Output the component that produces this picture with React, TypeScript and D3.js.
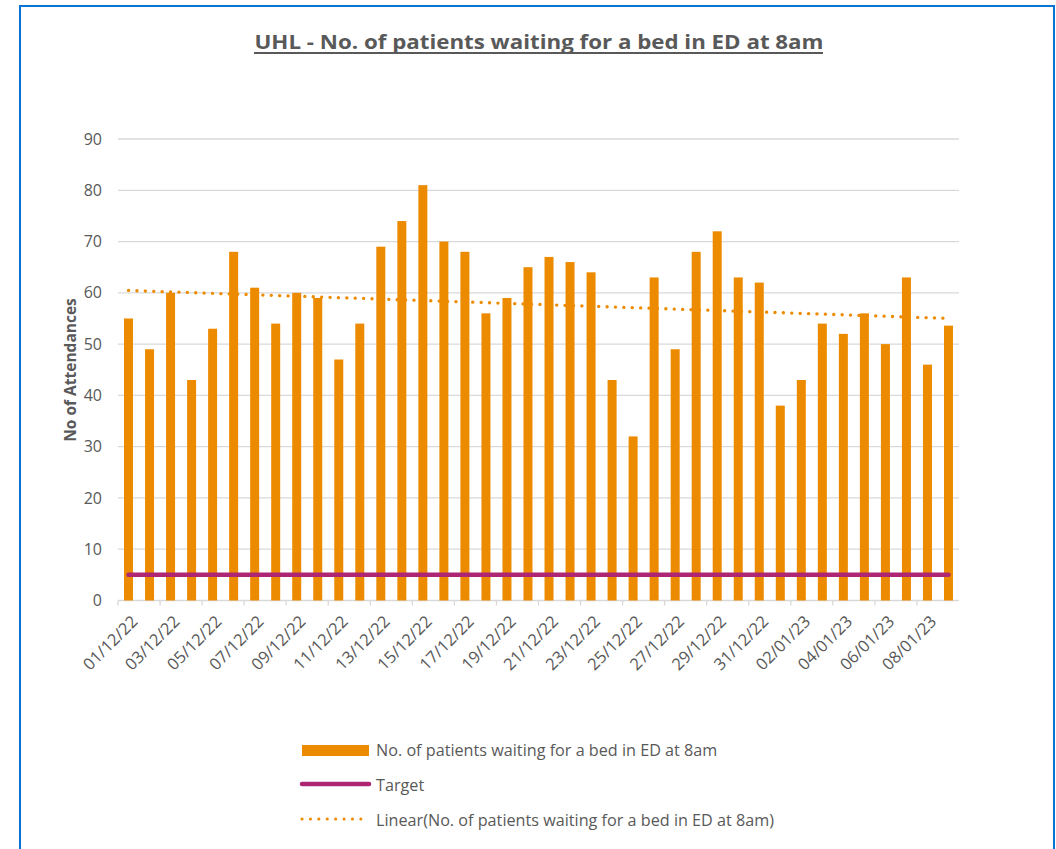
import React from "react";
import * as d3 from "d3";

const dates: string[] = [
  "01/12/22","02/12/22","03/12/22","04/12/22","05/12/22","06/12/22","07/12/22","08/12/22","09/12/22","10/12/22",
  "11/12/22","12/12/22","13/12/22","14/12/22","15/12/22","16/12/22","17/12/22","18/12/22","19/12/22","20/12/22",
  "21/12/22","22/12/22","23/12/22","24/12/22","25/12/22","26/12/22","27/12/22","28/12/22","29/12/22","30/12/22",
  "31/12/22","01/01/23","02/01/23","03/01/23","04/01/23","05/01/23","06/01/23","07/01/23","08/01/23","09/01/23",
];
const waiting: number[] = [
  55, 49, 60, 43, 53, 68, 61, 54, 60, 59,
  47, 54, 69, 74, 81, 70, 68, 56, 59, 65,
  67, 66, 64, 43, 32, 63, 49, 68, 72, 63,
  62, 38, 43, 54, 52, 56, 50, 63, 46, 53.6,
];
const targetValue = 5;
const yTicks: number[] = [0, 10, 20, 30, 40, 50, 60, 70, 80, 90];

const TITLE = "UHL - No. of patients waiting for a bed in ED at 8am";
const SERIES = "No. of patients waiting for a bed in ED at 8am";
const TREND = "Linear(No. of patients waiting for a bed in ED at 8am)";

const BAR = "#ED8B00";
const TARGET = "#AE2573";
const TEXT = "#595959";
const GRID = "#D9D9D9";
const FONT = "'Open Sans', 'Noto Sans', sans-serif";

export default function App() {
  const W = 1056, H = 849;
  const left = 118, right = 959, top = 139, bottom = 600.5;

  const x = d3.scaleBand<string>().domain(dates).range([left, right]).paddingInner(0).paddingOuter(0);
  const y = d3.scaleLinear().domain([0, 90]).range([bottom, top]);
  const bw = 9;
  const cx = (d: string) => (x(d) as number) + x.bandwidth() / 2;

  // linear regression trend
  const n = waiting.length;
  const idx = d3.range(n);
  const mx = d3.mean(idx) as number;
  const my = d3.mean(waiting) as number;
  let sxy = 0, sxx = 0;
  idx.forEach((i) => { sxy += (i - mx) * (waiting[i] - my); sxx += (i - mx) * (i - mx); });
  const slope = sxy / sxx;
  const intercept = my - slope * mx;
  const trendLine = d3.line<number>().x((i) => cx(dates[i])).y((i) => y(intercept + slope * i));

  const tickIdx = idx.filter((i) => i % 2 === 0);

  return (
    <svg width={W} height={H} style={{ position: "absolute", left: 0, top: 0, background: "#fff" }} fontFamily={FONT}>
      <rect x={0} y={0} width={W} height={H} fill="#fff" />
      {/* frame */}
      <path d={`M20,${H} L20,6 L1054,6 L1054,${H}`} fill="none" stroke="#0A74D4" strokeWidth={2} />

      {/* title */}
      <text x={539} y={49} textAnchor="middle" fontSize={20} fontWeight={700} fill={TEXT}
        textLength={569} lengthAdjust="spacingAndGlyphs">{TITLE}</text>
      <line x1={254} x2={823} y1={53} y2={53} stroke={TEXT} strokeWidth={2} />

      {/* grid */}
      {yTicks.map((t) => (
        <line key={"g" + t} x1={left} x2={right} y1={y(t)} y2={y(t)} stroke={GRID} strokeWidth={1.3} />
      ))}
      {yTicks.map((t) => (
        <text key={"yt" + t} x={102} y={y(t)} dy="0.35em" textAnchor="end" fontSize={16} fill={TEXT}>{t}</text>
      ))}
      <text transform={`translate(76,370) rotate(-90)`} textAnchor="middle" fontSize={15.5} fontWeight={700} fill={TEXT}>No of Attendances</text>

      {/* x ticks */}
      {tickIdx.map((i) => (
        <line key={"xt" + i} x1={x(dates[i])} x2={x(dates[i])} y1={bottom} y2={bottom + 5} stroke={GRID} strokeWidth={1.3} />
      ))}
      {tickIdx.map((i) => (
        <text key={"xl" + i} transform={`translate(${cx(dates[i]) + 6},${bottom + 18}) rotate(-45)`} textAnchor="end"
          dy="0.35em" fontSize={16.5} fill={TEXT}>{dates[i]}</text>
      ))}

      {/* bars */}
      {waiting.map((v, i) => (
        <rect key={"b" + i} x={cx(dates[i]) - bw / 2} width={bw} y={y(v)} height={bottom - y(v)} fill={BAR} />
      ))}

      {/* target */}
      <line x1={cx(dates[0])} x2={cx(dates[n - 1])} y1={y(targetValue)} y2={y(targetValue)} stroke={TARGET} strokeWidth={4.5} strokeLinecap="round" />

      {/* trend */}
      <path d={trendLine(idx) as string} fill="none" stroke={BAR} strokeWidth={3.3} strokeLinecap="round" strokeDasharray="0.1 8.3" />

      {/* legend */}
      <rect x={302} y={745} width={67} height={11} fill={BAR} />
      <text x={376} y={756} fontSize={16.2} fill={TEXT}>{SERIES}</text>
      <line x1={302} x2={369} y1={784} y2={784} stroke={TARGET} strokeWidth={4.5} strokeLinecap="round" />
      <text x={376} y={791} fontSize={16.2} fill={TEXT}>Target</text>
      <line x1={302} x2={369} y1={819} y2={819} stroke={BAR} strokeWidth={3} strokeLinecap="round" strokeDasharray="0.1 8.3" />
      <text x={376} y={826} fontSize={16.2} fill={TEXT}>{TREND}</text>
    </svg>
  );
}
